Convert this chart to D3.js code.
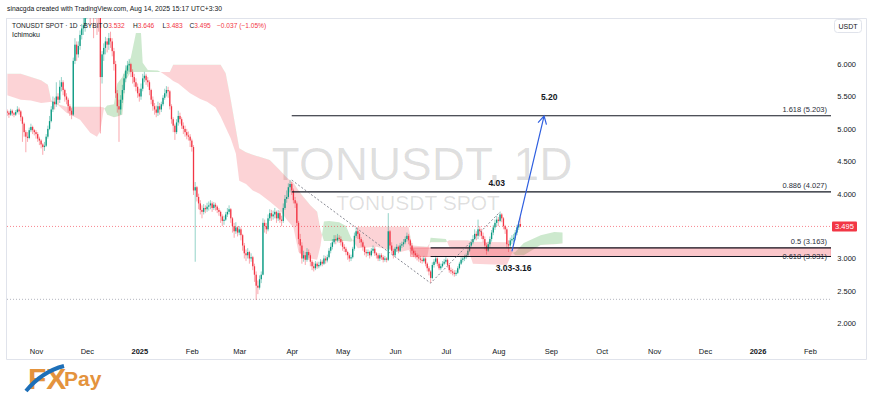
<!DOCTYPE html>
<html>
<head>
<meta charset="utf-8">
<script src="https://cdn.jsdelivr.net/npm/d3@7"></script>
<style>
body { margin: 0; background: #fff; }
svg text { font-family: "Liberation Sans", Arial, sans-serif; }
</style>
</head>
<body>
<svg id="chart" width="870" height="395"></svg>
<script>
// daily candles, 2024-10-15 .. 2025-08-14 (open = previous close)
var firstOpen = 5.27;
var closes = [
  5.25, 5.22, 5.28, 5.24, 5.22, 5.26, 5.30, 5.27, 5.18, 5.08,
  4.95, 4.88, 4.86, 4.98, 5.03, 4.98, 4.95, 4.92, 4.85, 4.82,
  4.76, 4.72, 4.74, 4.88, 5.00, 5.12, 5.30, 5.42, 5.38, 5.50,
  5.45, 5.65, 5.72, 5.60, 5.50, 5.45, 5.35, 5.28, 5.22, 6.05,
  6.30, 6.15, 6.28, 6.45, 6.55, 6.60, 6.80, 6.95, 7.10, 6.90,
  7.05, 6.85, 6.95, 6.80, 6.75, 5.80, 6.15, 6.25, 6.35, 6.30,
  6.40, 6.35, 6.20, 6.00, 5.55, 5.35, 5.30, 5.45, 5.60, 5.78,
  5.90, 5.98, 6.00, 5.88, 5.80, 5.72, 5.65, 5.55, 5.50, 5.62,
  5.78, 5.82, 5.75, 5.72, 5.60, 5.45, 5.35, 5.30, 5.25, 5.35,
  5.30, 5.38, 5.48, 5.55, 5.60, 5.58, 5.35, 5.15, 5.05, 4.95,
  5.10, 5.20, 5.15, 5.05, 5.00, 4.95, 4.90, 4.88, 4.82, 4.72,
  4.05, 4.10, 3.95, 3.85, 3.75, 3.72, 3.78, 3.76, 3.80, 3.82,
  3.85, 3.78, 3.83, 3.80, 3.75, 3.72, 3.65, 3.58, 3.60, 3.68,
  3.72, 3.76, 3.62, 3.50, 3.42, 3.48, 3.40, 3.45, 3.36, 3.20,
  3.08, 3.05, 3.10, 3.00, 3.02, 2.88, 2.75, 2.58, 2.55, 2.68,
  2.75, 3.55, 3.50, 3.45, 3.62, 3.70, 3.65, 3.68, 3.72, 3.62,
  3.70, 3.60, 3.58, 3.78, 3.92, 3.95, 4.10, 4.15, 4.05, 3.90,
  3.85, 3.55, 3.30, 3.20, 3.00, 3.05, 2.98, 3.10, 3.05, 2.95,
  2.88, 2.85, 2.92, 2.88, 2.90, 2.95, 2.92, 3.00, 2.97, 3.02,
  3.12, 3.18, 3.25, 3.30, 3.28, 3.32, 3.30, 3.25, 3.18, 3.15,
  3.10, 3.05, 3.00, 3.02, 3.15, 3.35, 3.42, 3.38, 3.30, 3.25,
  3.18, 3.10, 3.08, 3.10, 3.05, 3.12, 3.15, 3.08, 3.05, 3.00,
  3.05, 3.02, 2.98, 3.00, 2.98, 3.42, 3.20, 3.12, 3.05, 3.15,
  3.18, 3.12, 3.20, 3.22, 3.25, 3.30, 3.35, 3.28, 3.20, 3.12,
  3.08, 3.05, 3.02, 3.00, 2.98, 2.96, 3.00, 2.92, 2.85, 2.80,
  2.70, 2.90, 2.95, 3.00, 2.92, 2.85, 2.88, 2.92, 2.95, 2.98,
  2.90, 2.82, 2.80, 2.78, 2.76, 2.78, 2.85, 2.92, 2.98, 3.00,
  3.02, 3.05, 3.12, 3.20, 3.25, 3.30, 3.38, 3.35, 3.45, 3.42,
  3.35, 3.30, 3.20, 3.12, 3.22, 3.30, 3.40, 3.48, 3.55, 3.60,
  3.58, 3.68, 3.62, 3.50, 3.45, 3.22, 3.20, 3.28, 3.30, 3.32,
  3.40, 3.48, 3.532, 3.495
];
var highs = [
  5.30, 5.28, 5.31, 5.30, 5.26, 5.29, 5.35, 5.33, 5.29, 5.20,
  5.10, 4.98, 4.95, 5.02, 5.08, 5.05, 5.00, 4.98, 4.95, 4.88,
  4.84, 4.78, 4.80, 4.92, 5.05, 5.20, 5.35, 5.50, 5.48, 5.72,
  5.55, 5.75, 5.80, 5.75, 5.62, 5.55, 5.48, 5.38, 5.32, 6.10,
  6.40, 6.35, 6.35, 6.52, 6.62, 6.75, 6.95, 7.10, 7.25, 7.15,
  7.15, 7.10, 7.05, 7.00, 6.90, 6.80, 6.20, 6.32, 6.42, 6.40,
  6.48, 6.50, 6.40, 6.25, 6.05, 5.60, 5.45, 5.52, 5.68, 5.85,
  5.98, 6.05, 6.08, 6.02, 5.92, 5.85, 5.78, 5.70, 5.62, 5.70,
  5.85, 5.88, 5.85, 5.80, 5.75, 5.62, 5.50, 5.40, 5.36, 5.42,
  5.40, 5.42, 5.52, 5.62, 5.66, 5.65, 5.60, 5.38, 5.18, 5.08,
  5.15, 5.28, 5.25, 5.18, 5.10, 5.05, 5.00, 4.96, 4.92, 4.85,
  4.75, 4.18, 4.12, 4.00, 3.90, 3.82, 3.84, 3.82, 3.86, 3.88,
  3.90, 3.88, 3.87, 3.86, 3.82, 3.78, 3.74, 3.68, 3.66, 3.72,
  3.78, 3.82, 3.78, 3.64, 3.55, 3.56, 3.50, 3.50, 3.48, 3.38,
  3.24, 3.14, 3.16, 3.12, 3.08, 3.04, 2.92, 2.80, 2.66, 2.74,
  2.80, 3.62, 3.60, 3.55, 3.68, 3.76, 3.75, 3.74, 3.78, 3.74,
  3.75, 3.74, 3.66, 3.85, 3.98, 4.05, 4.16, 4.21, 4.18, 4.08,
  3.95, 3.88, 3.58, 3.38, 3.25, 3.12, 3.10, 3.16, 3.14, 3.08,
  2.98, 2.94, 2.96, 2.95, 2.95, 2.99, 2.98, 3.05, 3.04, 3.06,
  3.16, 3.24, 3.30, 3.36, 3.36, 3.38, 3.36, 3.34, 3.28, 3.22,
  3.18, 3.12, 3.08, 3.06, 3.18, 3.40, 3.48, 3.48, 3.40, 3.33,
  3.28, 3.20, 3.14, 3.14, 3.12, 3.16, 3.20, 3.18, 3.10, 3.08,
  3.08, 3.08, 3.05, 3.04, 3.02, 3.70, 3.44, 3.25, 3.15, 3.18,
  3.22, 3.20, 3.24, 3.26, 3.30, 3.34, 3.40, 3.38, 3.30, 3.24,
  3.15, 3.12, 3.08, 3.06, 3.04, 3.02, 3.04, 3.02, 2.94, 2.88,
  2.82, 2.94, 2.99, 3.04, 3.02, 2.95, 2.92, 2.96, 2.99, 3.02,
  3.00, 2.92, 2.86, 2.84, 2.82, 2.82, 2.88, 2.95, 3.02, 3.04,
  3.06, 3.08, 3.15, 3.24, 3.30, 3.36, 3.45, 3.42, 3.60, 3.50,
  3.46, 3.40, 3.34, 3.24, 3.26, 3.34, 3.44, 3.52, 3.60, 3.66,
  3.64, 3.72, 3.70, 3.64, 3.52, 3.48, 3.28, 3.32, 3.36, 3.38,
  3.44, 3.52, 3.58, 3.646
];
var lows = [
  5.20, 5.17, 5.20, 5.20, 5.18, 5.20, 5.24, 5.22, 5.12, 4.80,
  4.88, 4.64, 4.80, 4.84, 4.95, 4.92, 4.90, 4.85, 4.80, 4.75,
  4.70, 4.60, 4.66, 4.72, 4.85, 4.98, 5.10, 5.26, 5.30, 5.34,
  5.38, 5.40, 5.58, 5.52, 5.42, 5.38, 5.25, 5.20, 5.15, 5.20,
  6.00, 6.05, 6.10, 6.22, 6.38, 6.45, 6.50, 6.70, 6.85, 6.60,
  6.80, 6.40, 6.70, 6.45, 6.50, 4.93, 5.70, 6.05, 6.15, 6.18,
  6.22, 6.25, 6.12, 5.90, 5.48, 5.25, 4.80, 5.22, 5.40, 5.55,
  5.72, 5.85, 5.88, 5.80, 5.70, 5.65, 5.58, 5.48, 5.42, 5.45,
  5.58, 5.72, 5.68, 5.65, 5.52, 5.38, 5.28, 5.22, 5.18, 5.20,
  5.22, 5.26, 5.35, 5.45, 5.50, 5.48, 5.30, 5.08, 4.95, 4.83,
  4.92, 5.05, 5.08, 5.00, 4.92, 4.88, 4.84, 4.82, 4.72, 4.65,
  3.98, 2.95, 3.88, 3.76, 3.68, 3.62, 3.68, 3.70, 3.72, 3.74,
  3.76, 3.72, 3.75, 3.74, 3.70, 3.66, 3.55, 3.50, 3.52, 3.58,
  3.64, 3.68, 3.55, 3.40, 3.32, 3.38, 3.34, 3.36, 3.28, 3.12,
  3.00, 2.96, 3.00, 2.92, 2.95, 2.82, 2.64, 2.36, 2.45, 2.52,
  2.62, 2.74, 3.40, 3.38, 3.42, 3.58, 3.58, 3.60, 3.62, 3.55,
  3.58, 3.55, 3.50, 3.55, 3.75, 3.86, 3.92, 4.02, 3.98, 3.85,
  3.78, 3.50, 3.22, 3.08, 2.92, 2.95, 2.90, 2.95, 2.98, 2.88,
  2.82, 2.80, 2.82, 2.84, 2.85, 2.88, 2.88, 2.90, 2.92, 2.94,
  3.00, 3.08, 3.14, 3.22, 3.22, 3.25, 3.24, 3.20, 3.12, 3.10,
  3.05, 2.98, 2.95, 2.96, 3.00, 3.12, 3.32, 3.30, 3.24, 3.18,
  3.12, 3.05, 3.02, 3.04, 3.00, 3.03, 3.08, 3.04, 3.00, 2.96,
  2.96, 2.98, 2.94, 2.95, 2.94, 2.96, 3.15, 3.08, 3.00, 3.03,
  3.10, 3.08, 3.10, 3.16, 3.18, 3.22, 3.26, 3.22, 3.15, 3.06,
  3.02, 3.00, 2.97, 2.95, 2.93, 2.92, 2.94, 2.88, 2.80, 2.74,
  2.62, 2.68, 2.86, 2.92, 2.88, 2.82, 2.82, 2.86, 2.90, 2.92,
  2.86, 2.78, 2.76, 2.74, 2.72, 2.73, 2.76, 2.83, 2.90, 2.94,
  2.96, 2.99, 3.02, 3.10, 3.18, 3.22, 3.28, 3.28, 3.30, 3.34,
  3.30, 3.25, 3.14, 3.06, 3.10, 3.18, 3.26, 3.36, 3.44, 3.50,
  3.50, 3.56, 3.56, 3.45, 3.38, 3.16, 3.10, 3.16, 3.22, 3.25,
  3.28, 3.36, 3.44, 3.483
];

// ichimoku cloud: day index (from 2024-10-15), senkou span A / B
var cloudDays = [0, 8, 14, 20, 24, 26, 30, 35, 43, 49, 53, 55, 57, 59, 63, 65, 68, 70, 73, 76,
  79, 80, 83, 89, 91, 96, 98, 101, 108, 114, 118, 123, 126, 129, 132, 135, 137, 141, 145, 149,
  155, 161, 165, 169, 172, 174, 179, 183, 185, 187, 190, 196, 200, 203, 205, 207, 218, 226, 232, 237,
  239, 248, 250, 259, 261, 272, 275, 295, 298, 300, 305, 315, 323, 328];
var spanA = [5.52, 5.45, 5.44, 5.40, 5.41, 5.42, 5.37, 5.25, 5.14, 4.94, 4.88, 4.97, 5.30, 5.36, 5.38, 5.70, 5.80, 5.94, 6.10, 6.48,
  6.48, 6.02, 5.91, 5.90, 5.87, 5.78, 5.74, 5.70, 5.55, 5.46, 5.42, 5.33, 5.19, 5.02, 4.85, 4.62, 4.20, 4.15, 4.05, 4.00,
  3.88, 3.75, 3.60, 3.48, 3.10, 3.05, 3.00, 2.98, 3.20, 3.57, 3.58, 3.56, 3.50, 3.32, 3.24, 3.16, 3.18, 3.13, 3.10, 3.13,
  3.05, 3.02, 3.32, 3.30, 3.18, 3.15, 2.92, 2.90, 3.08, 3.10, 3.24, 3.36, 3.41, 3.40];
var spanB = [5.85, 5.85, 5.80, 5.75, 5.68, 5.44, 5.38, 5.34, 5.34, 5.34, 5.34, 5.34, 5.33, 5.22, 5.18, 5.19, 5.22, 5.75, 5.88, 5.88,
  5.88, 5.88, 5.88, 5.88, 5.88, 5.88, 5.99, 5.99, 5.99, 5.99, 5.99, 5.99, 5.99, 5.86, 5.45, 5.00, 4.70, 4.64, 4.60, 4.57,
  4.52, 4.36, 4.25, 4.17, 4.05, 3.98, 3.82, 3.72, 3.44, 3.27, 3.27, 3.27, 3.27, 3.26, 3.30, 3.49, 3.49, 3.49, 3.49, 3.49,
  3.20, 3.18, 3.25, 3.25, 3.28, 3.28, 3.26, 3.25, 3.10, 3.05, 3.05, 3.21, 3.22, 3.23];

var yTicks = [2, 2.5, 3, 4, 4.5, 5, 5.5, 6];
var fibLevels = [5.203, 4.027, 3.163, 3.031];
var fibNames = ["1.618 (5.203)", "0.886 (4.027)", "0.5 (3.163)", "0.618 (3.031)"];
var fibStart = [168, 168, 250, 250];
var fibPoints = [[168, 4.21], [250, 2.62], [291, 3.72]];
var zone = {start: 238, top: 3.163, bottom: 3.031};
var arrowFrom = [298, 3.11], arrowTo = [317, 5.2];
var notes = [{day: 320.4, price: 5.203, dy: -16, text: "5.20"},
             {day: 289.7, price: 4.027, dy: -6, text: "4.03"},
             {day: 299.2, price: 3.031, dy: 15, text: "3.03-3.16"}];
var lastPrice = 3.495, lowPrice = 2.37;

var up = "#089981", down = "#f23645", frame = "#e0e3eb";
var plotL = 7, plotR = 831, plotT = 18, plotB = 340;

var svg = d3.select("#chart");
var start = new Date(2024, 9, 15);
function day(i) { return d3.timeDay.offset(start, i); }

var x = d3.scaleTime().domain([new Date(2024, 10, 1), new Date(2026, 1, 1)]).range([36, 810]);
var y = d3.scaleLinear().domain([2, 6]).range([323.3, 64.1]);
function X(i) { return x(day(i)); }

var candles = closes.map(function(c, i) {
  return {i: i, o: i ? closes[i - 1] : firstOpen, h: highs[i], l: lows[i], c: c};
});
var cloud = cloudDays.map(function(d, i) { return {d: d, a: spanA[i], b: spanB[i]}; });

var defs = svg.append("defs");
defs.append("clipPath").attr("id", "plot").append("rect")
  .attr("x", plotL).attr("y", plotT).attr("width", plotR - plotL).attr("height", plotB - plotT);
defs.append("clipPath").attr("id", "aboveB").append("path")
  .attr("d", d3.area().x(function(d) { return X(d.d); }).y0(0).y1(function(d) { return y(d.b); })(cloud));
defs.append("clipPath").attr("id", "belowB").append("path")
  .attr("d", d3.area().x(function(d) { return X(d.d); }).y0(function(d) { return y(d.b); }).y1(400)(cloud));

// frame
svg.append("path").attr("d", "M6,18.5H866.5V359.5H6.5V18.5").attr("fill", "none").attr("stroke", frame);

var plot = svg.append("g").attr("clip-path", "url(#plot)");

// watermark
plot.append("text").attr("x", 422).attr("y", 180).attr("text-anchor", "middle")
  .attr("font-size", 46).attr("fill", "rgba(0,0,0,0.13)").text("TONUSDT, 1D");
plot.append("text").attr("x", 418).attr("y", 210).attr("text-anchor", "middle")
  .attr("font-size", 21).attr("fill", "rgba(0,0,0,0.13)").text("TONUSDT SPOT");

// cloud
var cloudArea = d3.area().x(function(d) { return X(d.d); })
  .y0(function(d) { return y(d.a); }).y1(function(d) { return y(d.b); });
plot.append("g").attr("clip-path", "url(#aboveB)").append("path")
  .attr("d", cloudArea(cloud)).attr("fill", "rgba(76,175,80,0.28)");
plot.append("g").attr("clip-path", "url(#belowB)").append("path")
  .attr("d", cloudArea(cloud)).attr("fill", "rgba(242,54,69,0.22)");

// price lines
plot.append("line").attr("x1", plotL).attr("x2", plotR).attr("y1", y(lowPrice)).attr("y2", y(lowPrice))
  .attr("stroke", "#b2b5be").attr("stroke-dasharray", "1,2");
plot.append("line").attr("x1", plotL).attr("x2", plotR).attr("y1", y(lastPrice)).attr("y2", y(lastPrice))
  .attr("stroke", down).attr("stroke-opacity", 0.6).attr("stroke-dasharray", "1,2");

// candles
var cg = plot.append("g").selectAll("g").data(candles).enter().append("g");
cg.append("line")
  .attr("x1", function(d) { return X(d.i); }).attr("x2", function(d) { return X(d.i); })
  .attr("y1", function(d) { return y(d.h); }).attr("y2", function(d) { return y(d.l); })
  .attr("stroke", function(d) { return d.c >= d.o ? up : down; })
  .attr("stroke-opacity", 0.55).attr("stroke-width", 0.8);
cg.append("rect")
  .attr("x", function(d) { return X(d.i) - 0.65; }).attr("width", 1.3)
  .attr("y", function(d) { return y(Math.max(d.o, d.c)); })
  .attr("height", function(d) { return Math.max(0.8, Math.abs(y(d.o) - y(d.c))); })
  .attr("fill", function(d) { return d.c >= d.o ? up : down; });

// zone and fib levels
plot.append("rect").attr("x", X(zone.start)).attr("width", plotR - X(zone.start))
  .attr("y", y(zone.top)).attr("height", y(zone.bottom) - y(zone.top))
  .attr("fill", "rgba(242,54,69,0.28)").attr("stroke", "rgba(242,54,69,0.5)").attr("stroke-width", 0.6);
fibLevels.forEach(function(p, i) {
  plot.append("line").attr("x1", X(fibStart[i])).attr("x2", plotR).attr("y1", y(p)).attr("y2", y(p))
    .attr("stroke", "#131722").attr("stroke-width", 1.2);
  plot.append("text").attr("x", 827).attr("y", y(p) - 4 + (i == 3 ? 7 : 0)).attr("text-anchor", "end")
    .attr("font-size", 7.5).attr("fill", "#2a2e39").text(fibNames[i]);
});
plot.append("path")
  .attr("d", d3.line().x(function(d) { return X(d[0]); }).y(function(d) { return y(d[1]); })(fibPoints))
  .attr("fill", "none").attr("stroke", "#787b86").attr("stroke-width", 0.9).attr("stroke-dasharray", "2,2");

// arrow
var ax0 = X(arrowFrom[0]), ay0 = y(arrowFrom[1]), ax1 = X(arrowTo[0]), ay1 = y(arrowTo[1]);
var ang = Math.atan2(ay1 - ay0, ax1 - ax0);
var head = [ang + Math.PI - 0.5, ang + Math.PI + 0.5].map(function(a) {
  return [ax1 + 9 * Math.cos(a), ay1 + 9 * Math.sin(a)];
});
plot.append("path")
  .attr("d", "M" + ax0 + "," + ay0 + "L" + ax1 + "," + ay1 +
    "M" + head[0] + "L" + ax1 + "," + ay1 + "L" + head[1])
  .attr("fill", "none").attr("stroke", "#2f5fe0").attr("stroke-width", 1.2);

notes.forEach(function(n) {
  plot.append("text").attr("x", X(n.day)).attr("y", y(n.price) + n.dy).attr("text-anchor", "middle")
    .attr("font-size", 8.5).attr("font-weight", "bold").attr("fill", "#131722").text(n.text);
});

// y axis
var yAxis = svg.append("g").attr("transform", "translate(856,0)")
  .call(d3.axisLeft(y).tickValues(yTicks).tickSize(0).tickPadding(0).tickFormat(d3.format(".3f")));
yAxis.select(".domain").remove();
yAxis.selectAll("text").attr("font-size", 7.5).attr("fill", "#131722")
  .attr("font-family", "Liberation Sans, Arial, sans-serif");
svg.append("rect").attr("x", 832).attr("y", y(lastPrice) - 5).attr("width", 25).attr("height", 10)
  .attr("rx", 1).attr("fill", down);
svg.append("text").attr("x", 844.5).attr("y", y(lastPrice) + 2.6).attr("text-anchor", "middle")
  .attr("font-size", 7.5).attr("fill", "#fff").text(lastPrice.toFixed(3));
svg.append("rect").attr("x", 834.5).attr("y", 19.5).attr("width", 27).attr("height", 13).attr("rx", 3)
  .attr("fill", "#fff").attr("stroke", frame);
svg.append("text").attr("x", 848).attr("y", 28.5).attr("text-anchor", "middle")
  .attr("font-size", 7).attr("fill", "#131722").text("USDT");

// x axis
var months = d3.timeMonth.range(new Date(2024, 10, 1), new Date(2026, 1, 2));
var xAxis = svg.append("g").attr("transform", "translate(0,348.5)")
  .call(d3.axisBottom(x).tickValues(months).tickSize(0).tickPadding(0)
    .tickFormat(function(d) { return d.getMonth() ? d3.timeFormat("%b")(d) : d3.timeFormat("%Y")(d); }));
xAxis.select(".domain").remove();
xAxis.selectAll("text").attr("font-size", 7.5).attr("fill", "#131722")
  .attr("font-family", "Liberation Sans, Arial, sans-serif")
  .attr("font-weight", function(d) { return d.getMonth() ? "normal" : "bold"; });

// header
svg.append("text").attr("x", 7).attr("y", 10.5).attr("font-size", 6.8).attr("fill", "#131722")
  .text("sinacgda created with TradingView.com, Aug 14, 2025 15:17 UTC+3:30");
var hdr = svg.append("text").attr("y", 27.5).attr("font-size", 6.6).attr("fill", "#131722");
hdr.append("tspan").attr("x", 12).text("TONUSDT SPOT · 1D · BYBIT");
[["O", "3.532", 103], ["H", "3.646", 133], ["L", "3.483", 162.5], ["C", "3.495", 189.5]].forEach(function(v) {
  hdr.append("tspan").attr("x", v[2]).text(v[0]);
  hdr.append("tspan").attr("fill", down).text(v[1]);
});
hdr.append("tspan").attr("x", 217).attr("fill", down).text("−0.037 (−1.05%)");
svg.append("text").attr("x", 12).attr("y", 37).attr("font-size", 7).attr("fill", "#131722").text("Ichimoku");

// logo
var logo = svg.append("g");
logo.append("text").attr("x", 28).attr("y", 389).attr("font-size", 30).attr("font-weight", "bold")
  .attr("font-family", "Liberation Sans Narrow, DejaVu Sans Condensed, sans-serif")
  .attr("fill", "#e4933d").text("FX");
logo.append("path").attr("d", "M26,391 C36,379 48,370 64,366")
  .attr("fill", "none").attr("stroke", "#1d6fb8").attr("stroke-width", 4);
logo.append("text").attr("x", 64).attr("y", 386).attr("font-size", 21).attr("font-weight", "bold")
  .attr("font-family", "Liberation Sans Narrow, DejaVu Sans Condensed, sans-serif")
  .attr("fill", "#e4933d").text("Pay");
</script>
</body>
</html>
